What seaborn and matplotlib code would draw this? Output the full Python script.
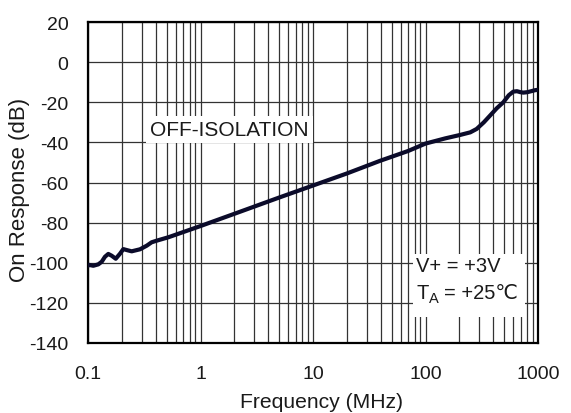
import numpy as np
import pandas as pd
import matplotlib
matplotlib.use("Agg")
import matplotlib.pyplot as plt
import seaborn as sns
from matplotlib.patches import Rectangle
from matplotlib.ticker import FixedLocator, FixedFormatter, LogLocator, NullFormatter

# off-isolation response
freq_mhz = [0.1, 0.1006, 0.1115, 0.1235, 0.1324, 0.1416, 0.1515, 0.1624, 0.1764,
            0.1925, 0.206, 0.2254, 0.2445, 0.2896, 0.3326, 0.368, 0.4079, 0.518,
            1.0, 2.0, 5.0, 10.0, 20.0, 39.4, 70.0, 100.0, 150.0, 203.0, 250.0,
            285.0, 330.0, 374.0, 430.0, 492.0, 550.0, 603.0, 650.0, 700.0, 741.0,
            800.0, 870.0, 940.0, 1000.0]
response_db = [-101.5, -101.0, -101.5, -100.8, -99.5, -97.0, -95.6, -96.5, -98.0,
               -95.5, -93.2, -93.8, -94.3, -93.3, -91.5, -89.8, -89.0, -87.3,
               -81.7, -75.6, -67.5, -61.5, -55.5, -49.2, -44.3, -40.6, -38.0,
               -36.3, -35.0, -33.3, -30.0, -26.7, -23.0, -20.0, -16.5, -14.7,
               -14.5, -15.0, -15.2, -15.0, -14.5, -14.0, -13.8]

x_ticks = [0.1, 1, 10, 100, 1000]
x_ticklabels = ['0.1', '1', '10', '100', '1000']
y_ticks = [20, 0, -20, -40, -60, -80, -100, -120, -140]

df = pd.DataFrame({'freq': freq_mhz, 'resp': response_db})

sns.set_theme(style='white')
plt.rcParams['font.family'] = ['Liberation Sans', 'DejaVu Sans']
plt.rcParams['axes.unicode_minus'] = False

txt = '#1a1a1a'
fig, ax = plt.subplots(figsize=(5.71, 4.14), dpi=100)
fig.subplots_adjust(left=88 / 571, right=538 / 571, top=1 - 23 / 414, bottom=1 - 344 / 414)

ax.set_xscale('log')
sns.lineplot(data=df, x='freq', y='resp', ax=ax, color='#0b0b2a', linewidth=3.0,
             sort=False, zorder=3)

ax.set_xlim(0.1, 1000)
ax.set_ylim(-140, 20)
ax.xaxis.set_major_locator(FixedLocator(x_ticks))
ax.xaxis.set_major_formatter(FixedFormatter(x_ticklabels))
ax.xaxis.set_minor_locator(LogLocator(base=10, subs=np.arange(2, 10)))
ax.xaxis.set_minor_formatter(NullFormatter())
ax.set_yticks(y_ticks)

ax.grid(which='both', axis='x', color='#333333', linewidth=0.9)
ax.grid(which='major', axis='y', color='#333333', linewidth=0.9)
ax.tick_params(which='both', length=0, labelsize=14, colors=txt)
ax.tick_params(axis='x', pad=16)
ax.tick_params(axis='y', pad=14)
for s in ax.spines.values():
    s.set_color('black')
    s.set_linewidth(1.6)

ax.set_xlabel('Frequency (MHz)', fontsize=15.2, color=txt)
ax.set_ylabel('On Response (dB)', fontsize=16, color=txt)
ax.xaxis.set_label_coords(0.518, -0.153)
ax.yaxis.set_label_coords(-0.128, 0.48)

ax.text(0.355, -33.5, 'OFF-ISOLATION', fontsize=15, color=txt,
        ha='left', va='center', zorder=4,
        bbox=dict(facecolor='white', edgecolor='none', pad=3))

# white panel behind the test conditions
ax.add_patch(Rectangle((77, -127), 766 - 77, 31.5, facecolor='white',
                       edgecolor='none', zorder=2.5))
ax.text(83, -101.6, 'V+ = +3V', fontsize=14.5, color=txt, ha='left', va='center', zorder=4)
ax.annotate('T', (83, -114.6), fontsize=14.5, color=txt, ha='left', va='center',
            annotation_clip=False, zorder=4)
ax.annotate('A', (83, -114.6), xytext=(8.9, -4.5), textcoords='offset points',
            fontsize=10.5, color=txt, ha='left', va='center', zorder=4)
ax.annotate('= +25℃', (83, -114.6), xytext=(20, 0), textcoords='offset points',
            fontsize=14.5, color=txt, ha='left', va='center', zorder=4)

plt.savefig('out.png', dpi=100)
plt.close()
